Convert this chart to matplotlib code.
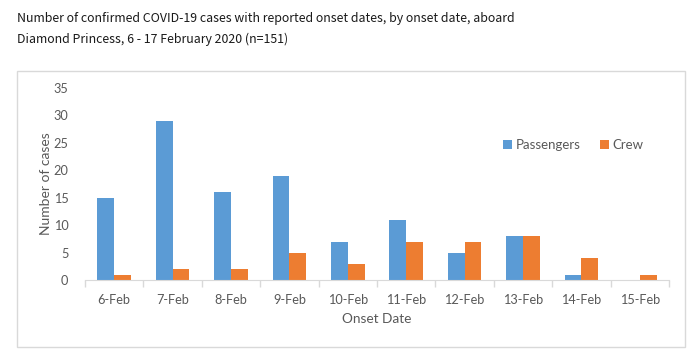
import numpy as np
import matplotlib.pyplot as plt
from matplotlib.patches import Rectangle

# Onset date data
dates = ['6-Feb', '7-Feb', '8-Feb', '9-Feb', '10-Feb', '11-Feb', '12-Feb', '13-Feb', '14-Feb', '15-Feb']
passengers = [15, 29, 16, 19, 7, 11, 5, 8, 1, 0]
crew = [1, 2, 2, 5, 3, 7, 7, 8, 4, 1]

blue = '#5B9BD5'
orange = '#ED7D31'
grey_text = '#595959'

fig = plt.figure(figsize=(7, 3.6), dpi=100)

# Chart frame
fig.patches.append(Rectangle((17 / 700, 1 - 347 / 360), 668 / 700, 276 / 360,
                             transform=fig.transFigure, fill=False,
                             edgecolor='#D9D9D9', linewidth=1))

fig.text(17 / 700, 1 - 12 / 360,
         'Number of confirmed COVID-19 cases with reported onset dates, by onset date, aboard\n'
         'Diamond Princess, 6 - 17 February 2020 (n=151)',
         fontsize=8.9, family=['Noto Sans CJK JP', 'DejaVu Sans'],
         color='#1a1a1a', va='top', ha='left', linespacing=1.75)

ax = fig.add_axes([85 / 700, 1 - 280 / 360, 584 / 700, 192 / 360])

x = np.arange(len(dates))
w = 0.286
ax.bar(x - w / 2, passengers, w, color=blue, label='Passengers')
ax.bar(x + w / 2, crew, w, color=orange, label='Crew')

ax.set_xlim(-0.5, len(dates) - 0.5)
ax.set_ylim(0, 35)
ax.set_yticks(range(0, 36, 5))

ax.set_xticks(x)
ax.set_xticklabels(dates)
ax.set_xticks(np.arange(-0.5, len(dates), 1), minor=True)

font = ['Lato', 'DejaVu Sans']
for lab in ax.get_xticklabels() + ax.get_yticklabels():
    lab.set_family(font)
    lab.set_fontsize(9.2)
    lab.set_color(grey_text)

ax.tick_params(axis='x', which='major', length=0, pad=10)
ax.tick_params(axis='x', which='minor', length=5, color='#D9D9D9', width=1)
ax.tick_params(axis='y', length=0, pad=12)

for s in ['top', 'right', 'left']:
    ax.spines[s].set_visible(False)
ax.spines['bottom'].set_color('#D9D9D9')

ax.set_xlabel('Onset Date', family=font, fontsize=9.8, color=grey_text, labelpad=5)
ax.set_ylabel('Number of cases', family=font, fontsize=10, color=grey_text)
ax.yaxis.set_label_coords(-33 / 584, 0.5)

fig.legend(*ax.get_legend_handles_labels(), loc='center left',
           bbox_to_anchor=(503 / 700, 1 - 145 / 360), ncol=2, frameon=False,
           prop={'family': font, 'size': 9.5}, labelcolor=grey_text, borderpad=0,
           borderaxespad=0, handlelength=0.7, handleheight=0.7, handletextpad=0.3,
           columnspacing=1.4)

plt.savefig('out.png', dpi=100)
